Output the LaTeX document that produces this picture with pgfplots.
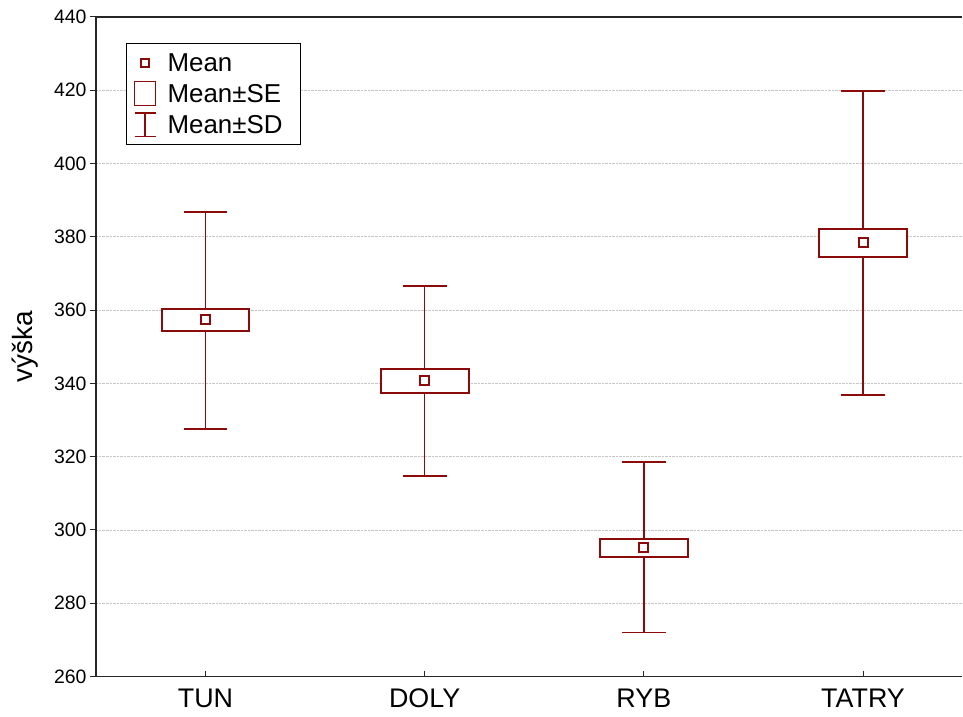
\documentclass[border=0pt]{standalone}
\usepackage{fontspec}
\setmainfont{Liberation Sans}
\usepackage{pgfplots}
\pgfplotsset{compat=1.18}
\usepackage{pgfplotstable}
\usepgfplotslibrary{statistics}
\definecolor{dred}{RGB}{139,10,10}

\pgfplotstableread{
pos mean
0 357.4
1 340.7
2 295.2
3 378.4
}\means

\begin{document}
\begin{tikzpicture}
\begin{axis}[name=ax, scale only axis, width=867bp, height=660bp,
  xmin=-0.5, xmax=3.453, ymin=260, ymax=440,
  axis line style={draw=none},
  xtick pos=left, ytick pos=left,
  xtick={0,1,2,3}, xticklabels={TUN,DOLY,RYB,TATRY},
  ytick={260,280,...,440},
  xtick align=inside, ytick align=outside,
  major tick length=6bp,
  tick style={black!85, line width=1bp},
  ymajorgrids, major grid style={densely dotted, black!22, line width=0.8bp},
  /pgf/number format/assume math mode=true,
  yticklabel style={font=\fontsize{19.5}{23}\selectfont},
  xticklabel style={font=\fontsize{27}{32}\selectfont, inner ysep=1bp, yshift=-11bp},
  ylabel={výška},
  every axis y label/.style={at={(axis description cs:-0.07266,0.5)}, rotate=90, anchor=base, font=\fontsize{28}{32}\selectfont},
  legend style={at={(axis description cs:0.0347,0.9606)}, anchor=north west,
    draw=black, line width=1.2bp, fill=white, font=\fontsize{26}{30}\selectfont,
    inner xsep=6bp, inner ysep=7bp, row sep=6bp, /tikz/column sep=-1bp,
    nodes={text height=19bp, text depth=1bp, inner ysep=2bp, inner xsep=12bp}},
  legend cell align=left,
  boxplot/draw direction=y,
  boxplot/box extend=0.4,
  boxplot/whisker extend=0.2,
  boxplot/every box/.style={draw=dred, fill=white, line width=2bp},
  boxplot/every whisker/.style={draw=dred, line width=1.6bp},
  boxplot/draw/median/.code={},
]
\addlegendimage{legend image code/.code={\path[draw=none, fill=none] (0bp,-12bp) rectangle (24bp,12bp); \draw[dred, line width=2bp] (8.5bp,-4bp) rectangle (16.5bp,4bp);}}
\addlegendentry{Mean}
\addlegendimage{legend image code/.code={\path[draw=none, fill=none] (0bp,-12bp) rectangle (24bp,12bp); \draw[dred, line width=1.5bp] (2bp,-12bp) rectangle (23bp,12bp);}}
\addlegendentry{Mean±SE}
\addlegendimage{legend image code/.code={\path[draw=none, fill=none] (0bp,-12bp) rectangle (24bp,12bp); \draw[dred, line width=1.5bp] (2bp,-12bp) -- (23bp,-12bp) (2bp,12bp) -- (23bp,12bp) (12.5bp,-12bp) -- (12.5bp,12bp);}}
\addlegendentry{Mean±SD}

% TUN
\addplot[forget plot, boxplot prepared={draw position=0, median=357.4,
  lower quartile=354.4, upper quartile=360.4, lower whisker=327.6, upper whisker=386.8}] coordinates {};
% DOLY
\addplot[forget plot, boxplot prepared={draw position=1, median=340.7,
  lower quartile=337.5, upper quartile=344.0, lower whisker=314.8, upper whisker=366.6}] coordinates {};
% RYB
\addplot[forget plot, boxplot prepared={draw position=2, median=295.2,
  lower quartile=292.7, upper quartile=297.6, lower whisker=272.0, upper whisker=318.6}] coordinates {};
% TATRY
\addplot[forget plot, boxplot prepared={draw position=3, median=378.4,
  lower quartile=374.5, upper quartile=382.2, lower whisker=336.9, upper whisker=419.8}] coordinates {};

\addplot[forget plot, only marks, mark=square, mark size=4.5bp, dred, line width=2bp] table[x=pos, y=mean] {\means};
\end{axis}
\draw[black!85, line width=1.4bp] (ax.south east) -- (ax.south west) -- (ax.north west) -- (ax.north east);
\path ([xshift=-96bp, yshift=-40bp]ax.south west) rectangle ([yshift=17bp]ax.north east);
\end{tikzpicture}
\end{document}
